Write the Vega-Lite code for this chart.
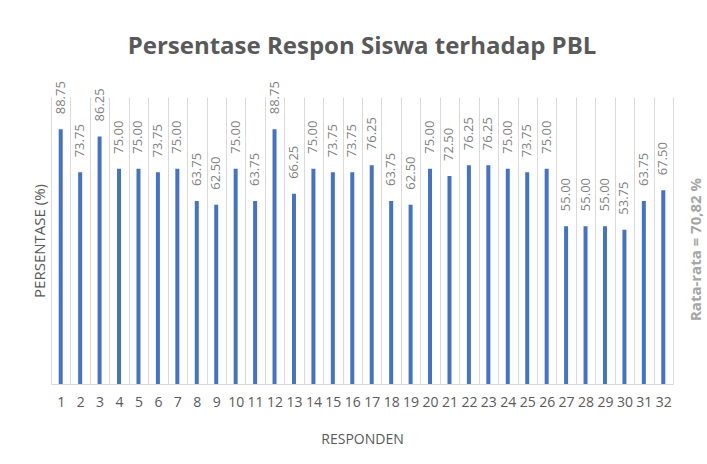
{
  "$schema": "https://vega.github.io/schema/vega-lite/v6.json",
  "width": 622,
  "height": 287,
  "autosize": {"type": "none"},
  "padding": {"left": 51, "top": 97, "right": 34, "bottom": 80},
  "background": "white",
  "title": {
    "text": "Persentase Respon Siswa terhadap PBL",
    "font": "Open Sans",
    "fontSize": 24,
    "fontWeight": "bold",
    "color": "#595959",
    "anchor": "middle",
    "offset": 22
  },
  "config": {"view": {"stroke": null}},
  "data": {
    "values": [
      {"responden": 1, "persentase": 88.75},
      {"responden": 2, "persentase": 73.75},
      {"responden": 3, "persentase": 86.25},
      {"responden": 4, "persentase": 75.00},
      {"responden": 5, "persentase": 75.00},
      {"responden": 6, "persentase": 73.75},
      {"responden": 7, "persentase": 75.00},
      {"responden": 8, "persentase": 63.75},
      {"responden": 9, "persentase": 62.50},
      {"responden": 10, "persentase": 75.00},
      {"responden": 11, "persentase": 63.75},
      {"responden": 12, "persentase": 88.75},
      {"responden": 13, "persentase": 66.25},
      {"responden": 14, "persentase": 75.00},
      {"responden": 15, "persentase": 73.75},
      {"responden": 16, "persentase": 73.75},
      {"responden": 17, "persentase": 76.25},
      {"responden": 18, "persentase": 63.75},
      {"responden": 19, "persentase": 62.50},
      {"responden": 20, "persentase": 75.00},
      {"responden": 21, "persentase": 72.50},
      {"responden": 22, "persentase": 76.25},
      {"responden": 23, "persentase": 76.25},
      {"responden": 24, "persentase": 75.00},
      {"responden": 25, "persentase": 73.75},
      {"responden": 26, "persentase": 75.00},
      {"responden": 27, "persentase": 55.00},
      {"responden": 28, "persentase": 55.00},
      {"responden": 29, "persentase": 55.00},
      {"responden": 30, "persentase": 53.75},
      {"responden": 31, "persentase": 63.75},
      {"responden": 32, "persentase": 67.50}
    ]
  },
  "encoding": {
    "x": {
      "field": "responden",
      "type": "ordinal",
      "scale": {"paddingInner": 0, "paddingOuter": 0},
      "axis": {
        "title": "RESPONDEN",
        "titleFont": "Open Sans",
        "titleFontSize": 14,
        "titleFontWeight": "normal",
        "titleColor": "#595959",
        "titlePadding": 23,
        "labelAngle": 0,
        "labelFont": "Open Sans",
        "labelFontSize": 14,
        "labelColor": "#595959",
        "labelPadding": 11,
        "labelOverlap": false,
        "labelBound": false,
        "ticks": false,
        "domainColor": "#d9d9d9",
        "domainWidth": 1,
        "grid": true,
        "gridColor": "#d9d9d9",
        "gridWidth": 1,
        "tickBand": "extent"
      }
    },
    "y": {
      "field": "persentase",
      "type": "quantitative",
      "scale": {"domain": [0, 100]}
    }
  },
  "layer": [
    {
      "mark": {"type": "bar", "size": 4, "color": "#4472c4"},
      "encoding": {
        "y": {
          "field": "persentase",
          "type": "quantitative",
          "scale": {"domain": [0, 100]},
          "axis": {
            "orient": "left",
            "title": "PERSENTASE (%)",
            "titleFont": "Open Sans",
            "titleFontSize": 15,
            "titleFontWeight": "normal",
            "titleColor": "#595959",
            "titlePadding": 4,
            "labels": false,
            "ticks": false,
            "domain": false,
            "grid": false
          }
        }
      }
    },
    {
      "mark": {
        "type": "text",
        "angle": 270,
        "align": "left",
        "baseline": "middle",
        "dx": 15,
        "font": "Open Sans",
        "fontSize": 13,
        "color": "#7f7f7f"
      },
      "encoding": {
        "y": {
          "field": "persentase",
          "type": "quantitative",
          "scale": {"domain": [0, 100]},
          "axis": {
            "orient": "right",
            "title": "Rata-rata = 70,82 %",
            "titleAngle": 270,
            "titleFont": "Open Sans",
            "titleFontSize": 15,
            "titleFontWeight": "bold",
            "titleColor": "#a6a6a6",
            "titlePadding": 30,
            "titleY": 152,
            "labels": false,
            "ticks": false,
            "domain": false,
            "grid": false
          }
        },
        "text": {"field": "persentase", "type": "quantitative", "format": ".2f"}
      }
    }
  ],
  "resolve": {"axis": {"y": "independent"}}
}
